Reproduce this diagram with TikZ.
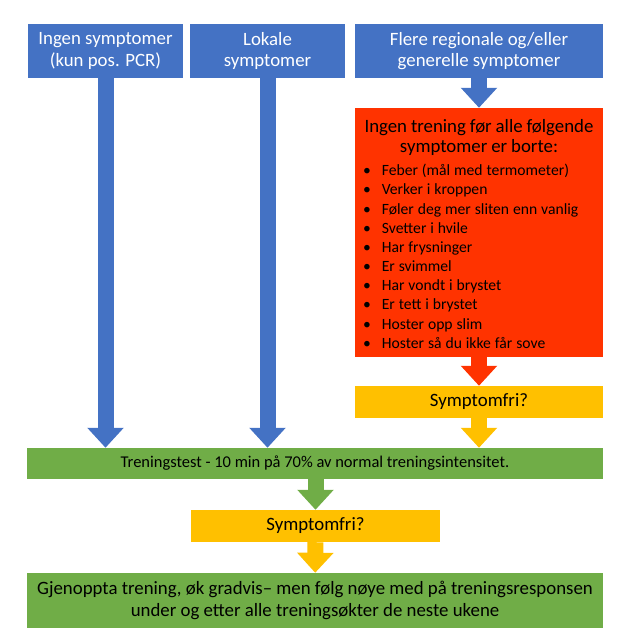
\documentclass[tikz,border=0pt]{standalone}
\usepackage{fontspec}
\setmainfont{Carlito}
\usetikzlibrary{arrows.meta}
\definecolor{boxblue}{HTML}{4472C4}
\definecolor{boxred}{HTML}{FF3300}
\definecolor{boxyellow}{HTML}{FFC000}
\definecolor{boxgreen}{HTML}{70AD47}
\begin{document}
\begin{tikzpicture}[x=0.85pt,y=-0.85pt,
    box/.style={inner sep=0pt, align=center, font=\fontsize{16}{18.4}\selectfont},
    bluebox/.style={box, fill=boxblue, text=white, minimum height=45.9pt},
    yellowbox/.style={box, fill=boxyellow, minimum height=27.2pt},
    greenbox/.style={box, fill=boxgreen, minimum width=489.6pt},
    flow/.style={line width=13.6pt, -{Triangle[length=17pt,width=30pt]}}]
  \useasboundingbox (0,0) rectangle (643,643);
  \node[bluebox, minimum width=131.75pt] (b1) at (105.5,51) {Ingen symptomer\\(kun pos. PCR)};
  \node[bluebox, minimum width=131.75pt] (b2) at (267.5,51) {Lokale\\symptomer};
  \node[bluebox, minimum width=210.8pt] (b3) at (479,51) {Flere regionale og/eller\\generelle symptomer};
  \node[fill=boxred, minimum width=210.8pt, minimum height=211.65pt, inner xsep=6.8pt, inner ysep=0pt,
        text width=197.2pt] (red) at (479,232.5) {%
    {\centering\fontsize{16}{17}\selectfont\rule{0pt}{18pt}Ingen trening før alle følgende\\symptomer er borte:\par}
    \vspace{5pt}\noindent\fontsize{13.3}{16.3}\selectfont
    \begin{tabular}{@{}p{16pt}@{}l@{}}
      \textbullet & Feber (mål med termometer)\\
      \textbullet & Verker  i kroppen\\
      \textbullet & Føler deg mer  sliten enn vanlig\\
      \textbullet & Svetter  i hvile\\
      \textbullet & Har frysninger\\
      \textbullet & Er svimmel\\
      \textbullet & Har vondt i brystet\\
      \textbullet & Er tett i brystet\\
      \textbullet & Hoster opp  slim\\
      \textbullet & Hoster så du ikke får sove
    \end{tabular}};
  \node[yellowbox, minimum width=210.8pt] (y1) at (479,402) {Symptomfri?};
  \node[greenbox, minimum height=26.35pt, font=\fontsize{14}{17}\selectfont] (g1) at (315,463.5)
    {Treningstest - 10 min på 70\% av normal treningsintensitet.};
  \node[yellowbox, minimum width=211.65pt] (y2) at (315.5,526) {Symptomfri?};
  \node[greenbox, minimum height=46.75pt] (g2) at (315,600.5)
    {Gjenoppta trening, øk gradvis– men følg nøye med på treningsresponsen\\under og etter  alle treningsøkter de neste ukene};
  \draw[flow, boxblue] (b1.south) -- (b1.south |- g1.north);
  \draw[flow, boxblue] (b2.south) -- (b2.south |- g1.north);
  \draw[flow, boxblue] (b3) -- (red);
  \draw[flow, boxred] (red) -- (y1);
  \draw[flow, boxyellow] (y1) -- (y1 |- g1.north);
  \draw[flow, boxgreen] (g1.south -| y2) -- (y2);
  \draw[flow, boxyellow] (y2) -- (g2);
\end{tikzpicture}
\end{document}
